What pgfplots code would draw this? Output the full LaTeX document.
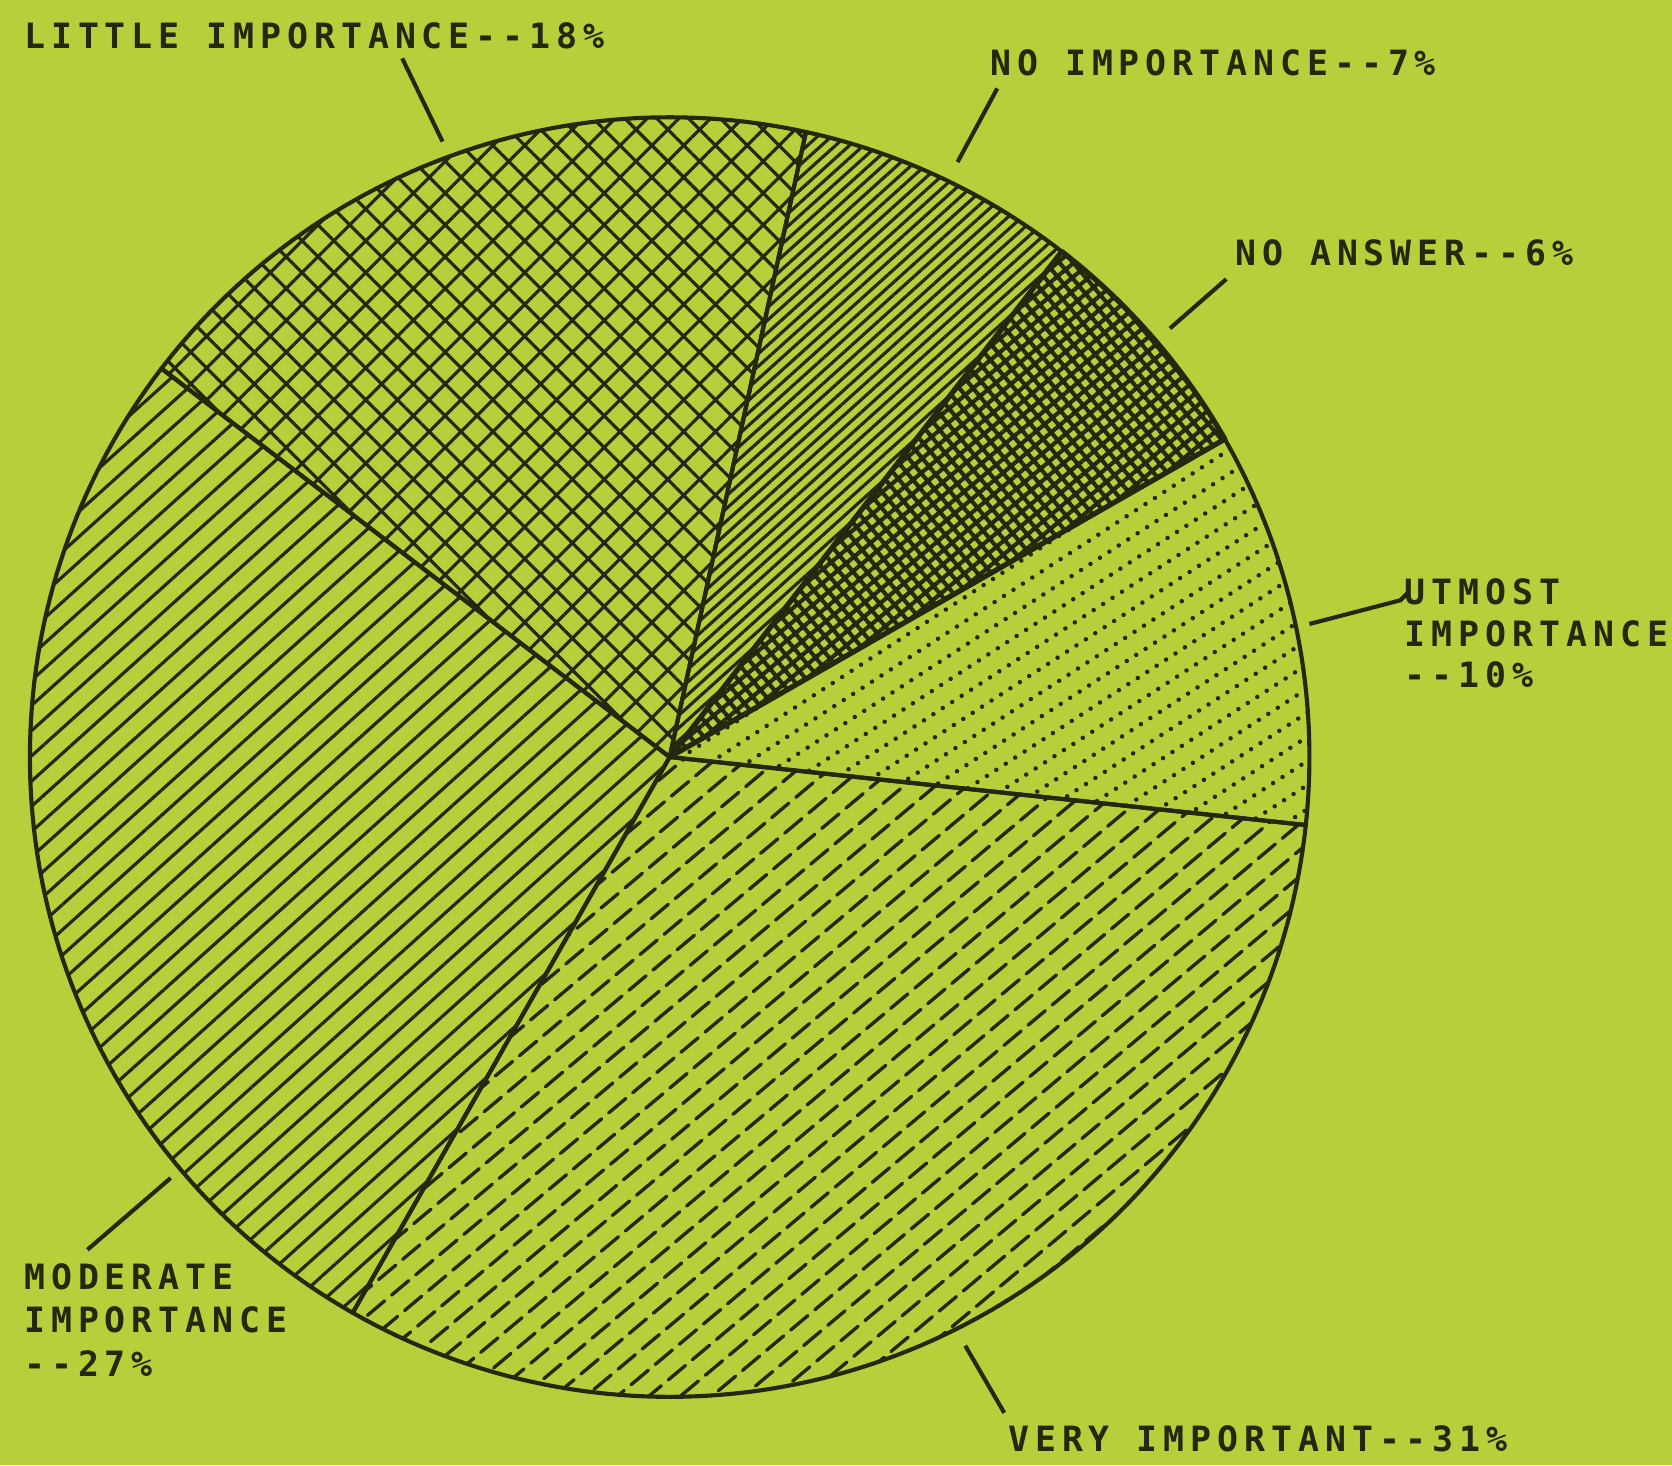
\documentclass[border=0pt]{standalone}
\usepackage{pgfplots}
\pgfplotsset{compat=1.18}
\usepackage{fontspec}
\usetikzlibrary{patterns,patterns.meta}
\newfontfamily\plotter[LetterSpace=17]{DejaVu Sans Mono}
\definecolor{bg}{RGB}{182,207,58}
\definecolor{ink}{RGB}{36,40,14}

\pgfdeclarepattern{
  name=rowdots, type=uncolored,
  bottom left={\pgfpoint{-0.7pt}{-0.7pt}},
  top right={\pgfpoint{0.7pt}{0.7pt}},
  tile size={\pgfpoint{3.0pt}{5.4pt}},
  tile transformation={\pgftransformrotate{33}},
  code={\pgfpathcircle{\pgfpointorigin}{0.6pt}\pgfusepath{fill}}
}
\pgfdeclarepattern{
  name=dashlines, type=uncolored,
  bottom left={\pgfpoint{-0.6pt}{-0.6pt}},
  top right={\pgfpoint{6.6pt}{0.6pt}},
  tile size={\pgfpoint{8.4pt}{5.4pt}},
  tile transformation={\pgftransformrotate{40}},
  code={\pgfsetlinewidth{0.9pt}\pgfsetroundcap
        \pgfpathmoveto{\pgfpointorigin}\pgfpathlineto{\pgfpoint{6pt}{0pt}}\pgfusepath{stroke}}
}

\begin{document}
\begin{tikzpicture}
\begin{axis}[
  width=15.68cm, height=13.74cm, scale only axis,
  xmin=-1.0467, xmax=1.5667, ymin=-1.1067, ymax=1.1833,
  hide axis, clip=false,
]
\fill[bg] (rel axis cs:0,0) rectangle (rel axis cs:1,1);
% slice boundaries in degrees
% UTMOST IMPORTANCE 10%: -6.1 .. 29.8
\addplot[draw=ink, line width=1.1pt, line join=round, pattern=rowdots, pattern color=ink,
  domain=-6.1:29.8, samples=40] ({cos(x)},{sin(x)}) -- (axis cs:0,0) -- cycle;
% NO ANSWER 6%: 29.8 .. 52.2
\addplot[draw=ink, line width=1.4pt, line join=round, pattern={Hatch[angle=40,distance=2.8pt,line width=1.1pt]}, pattern color=ink,
  domain=29.8:52.2, samples=30] ({cos(x)},{sin(x)}) -- (axis cs:0,0) -- cycle;
% NO IMPORTANCE 7%: 52.2 .. 77.7
\addplot[draw=ink, line width=1.1pt, line join=round, pattern={Lines[angle=42,distance=2.5pt,line width=0.85pt]}, pattern color=ink,
  domain=52.2:77.7, samples=30] ({cos(x)},{sin(x)}) -- (axis cs:0,0) -- cycle;
% LITTLE IMPORTANCE 18%: 77.7 .. 142.6
\addplot[draw=ink, line width=1.1pt, line join=round, pattern={Hatch[angle=45,distance=6pt,line width=0.85pt]}, pattern color=ink,
  domain=77.7:142.6, samples=60] ({cos(x)},{sin(x)}) -- (axis cs:0,0) -- cycle;
% MODERATE IMPORTANCE 27%: 142.6 .. 240.3
\addplot[draw=ink, line width=1.1pt, line join=round, pattern={Lines[angle=42,distance=5.0pt,line width=0.85pt]}, pattern color=ink,
  domain=142.6:240.3, samples=90] ({cos(x)},{sin(x)}) -- (axis cs:0,0) -- cycle;
% VERY IMPORTANT 31%: 240.3 .. 353.9
\addplot[draw=ink, line width=1.1pt, line join=round, pattern=dashlines, pattern color=ink,
  domain=240.3:353.9, samples=100] ({cos(x)},{sin(x)}) -- (axis cs:0,0) -- cycle;

% leader lines
\draw[ink, line width=1.1pt] (axis cs:-0.418,1.092) -- (axis cs:-0.355,0.962);
\draw[ink, line width=1.1pt] (axis cs:0.512,1.045) -- (axis cs:0.45,0.93);
\draw[ink, line width=1.1pt] (axis cs:0.87,0.747) -- (axis cs:0.782,0.67);
\draw[ink, line width=1.1pt] (axis cs:1.0,0.208) -- (axis cs:1.142,0.245) -- (axis cs:1.155,0.258);
\draw[ink, line width=1.1pt] (axis cs:-0.78,-0.658) -- (axis cs:-0.91,-0.77);
\draw[ink, line width=1.1pt] (axis cs:0.462,-0.92) -- (axis cs:0.523,-1.025);

% labels
\tikzset{lab/.style={anchor=base west, inner sep=0pt, text=ink, font=\plotter\bfseries\fontsize{9.3}{11}\selectfont}}
\node[lab] at (axis cs:-1.010,1.108) {LITTLE IMPORTANCE--18\%};
\node[lab] at (axis cs:0.500,1.066) {NO IMPORTANCE--7\%};
\node[lab] at (axis cs:0.883,0.769) {NO ANSWER--6\%};
\node[lab] at (axis cs:1.148,0.238) {UTMOST};
\node[lab] at (axis cs:1.148,0.173) {IMPORTANCE};
\node[lab] at (axis cs:1.148,0.108) {--10\%};
\node[lab] at (axis cs:-1.010,-0.832) {MODERATE};
\node[lab] at (axis cs:-1.010,-0.900) {IMPORTANCE};
\node[lab] at (axis cs:-1.010,-0.968) {--27\%};
\node[lab] at (axis cs:0.528,-1.085) {VERY IMPORTANT--31\%};
\end{axis}
\pgfresetboundingbox
\path[use as bounding box] (current axis.south west) rectangle (current axis.north east);
\end{tikzpicture}
\end{document}
